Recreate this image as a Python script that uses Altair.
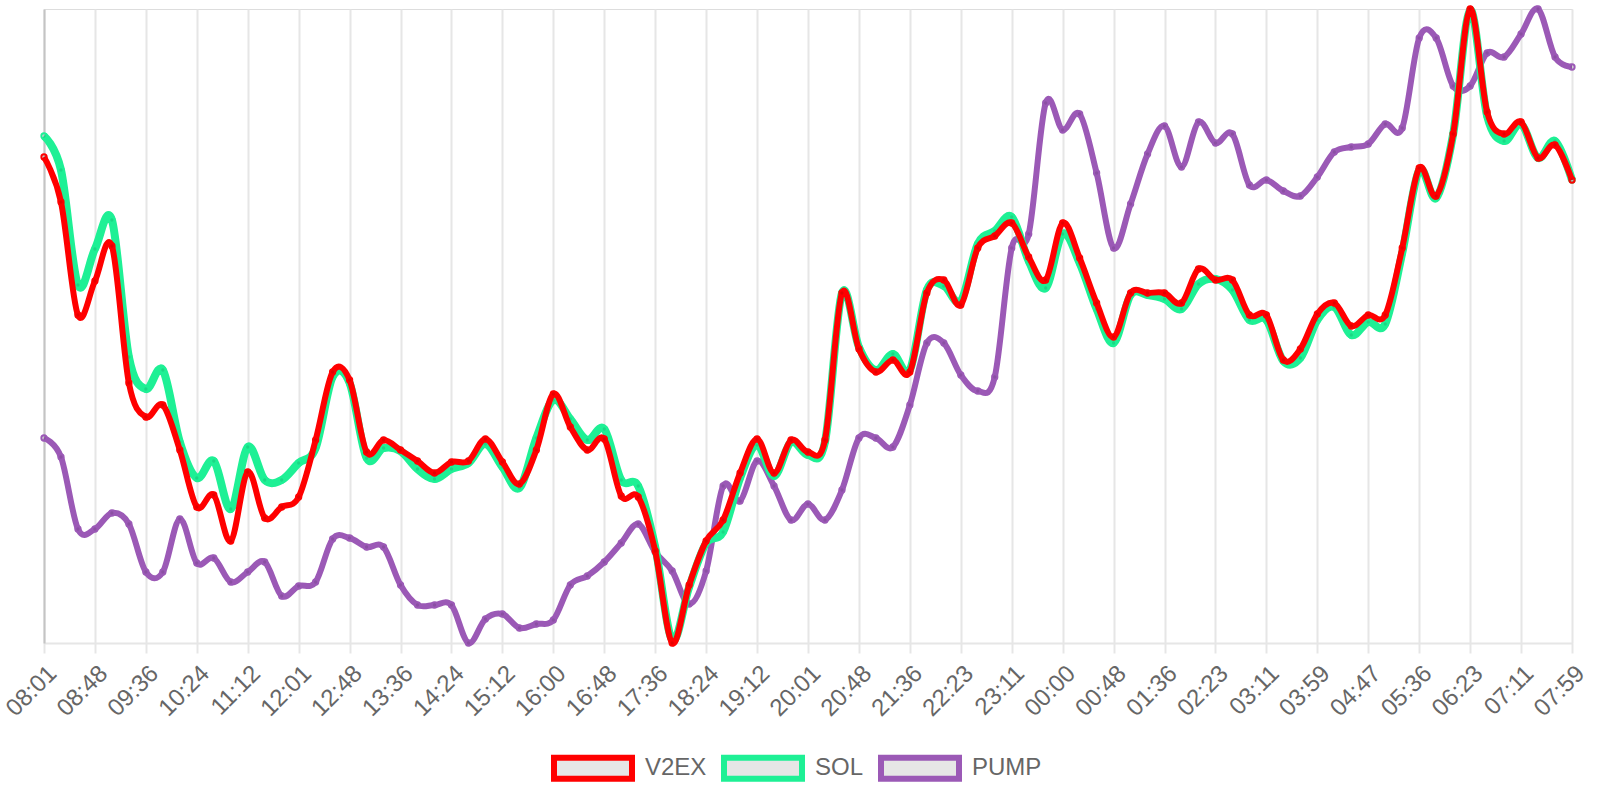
import altair as alt
import pandas as pd

TICK_LABELS = ["08:01", "08:48", "09:36", "10:24", "11:12", "12:01", "12:48", "13:36",
               "14:24", "15:12", "16:00", "16:48", "17:36", "18:24", "19:12", "20:01",
               "20:48", "21:36", "22:23", "23:11", "00:00", "00:48", "01:36", "02:23",
               "03:11", "03:59", "04:47", "05:36", "06:23", "07:11", "07:59"]

V2EX = [486, 441, 328, 362, 397, 260, 226, 238, 193, 136, 148, 102, 171, 125, 136, 146,
        203, 271, 263, 191, 203, 193, 182, 170, 181, 182, 204, 181, 159, 193, 249, 216,
        193, 204, 147, 146, 92, 0, 58, 102, 123, 170, 204, 170, 203, 191, 203, 350,
        294, 271, 283, 271, 350, 363, 338, 395, 407, 420, 386, 363, 420, 385, 340, 306,
        350, 350, 350, 340, 374, 363, 363, 328, 328, 283, 294, 329, 340, 317, 328, 328,
        395, 475, 447, 509, 634, 531, 509, 521, 485, 498, 463]

SOL = [507, 473, 358, 394, 423, 286, 254, 273, 201, 165, 182, 134, 196, 163, 163, 180,
       195, 266, 260, 185, 195, 192, 174, 164, 174, 180, 199, 176, 155, 205, 243, 224,
       203, 214, 163, 157, 96, 3, 56, 100, 111, 165, 198, 167, 201, 188, 201, 350,
       296, 273, 289, 273, 353, 357, 342, 399, 412, 426, 382, 355, 409, 380, 334, 300,
       348, 348, 344, 334, 359, 364, 353, 323, 323, 282, 285, 323, 336, 308, 321, 319,
       390, 473, 445, 509, 633, 527, 502, 519, 485, 502, 463]

PUMP = [205, 186, 114, 114, 130, 119, 71, 71, 124, 80, 85, 61, 71, 81, 47, 57,
        61, 104, 105, 96, 96, 58, 38, 38, 38, 0, 24, 29, 15, 19, 23, 58,
        67, 81, 100, 119, 91, 72, 39, 72, 157, 142, 182, 157, 123, 139, 123, 153,
        205, 205, 196, 238, 300, 300, 268, 252, 266, 395, 409, 540, 513, 529, 470, 395,
        439, 489, 517, 476, 521, 500, 509, 458, 463, 452, 447, 466, 491, 496, 499, 519,
        515, 605, 605, 557, 557, 590, 586, 609, 634, 586, 576]

SERIES = ["V2EX", "SOL", "PUMP"]
COLORS = ["#ff0000", "#1ef095", "#9b59b6"]
WIDTHS = {"V2EX": 6, "SOL": 8, "PUMP": 6}

rows = []
for name, vals in zip(SERIES, [V2EX, SOL, PUMP]):
    for i, v in enumerate(vals):
        rows.append({"i": i, "v": v, "series": name})
df = pd.DataFrame(rows)

n = len(V2EX)
all_vals = V2EX + SOL + PUMP
label_expr = "[" + ",".join(f"'{t}'" for t in TICK_LABELS) + "][round(datum.value / 3)]"

x_enc = alt.X(
    "i:Q",
    scale=alt.Scale(domain=[0, n - 1], nice=False, zero=False),
    axis=alt.Axis(
        values=list(range(0, n, 3)), labelExpr=label_expr, labelAngle=315,
        labelFontSize=24, labelColor="#666666", labelFont="Liberation Sans",
        labelPadding=8, labelOverlap=False, labelBound=False,
        grid=True, gridColor="#e6e6e6", gridWidth=2,
        tickColor="#e6e6e6", tickWidth=2, tickSize=10,
        domainColor="#e6e6e6", domainWidth=2, title=None,
    ),
)
y_enc = alt.Y(
    "v:Q",
    scale=alt.Scale(domain=[min(all_vals), max(all_vals)], nice=False, zero=False),
    axis=alt.Axis(labels=False, ticks=False, grid=False, domainColor="#c4c4c4",
                  domainWidth=2, title=None),
)
color_scale = alt.Scale(domain=SERIES, range=COLORS)
legend = alt.Legend(
    title=None, orient="none", direction="horizontal", legendX=507, legendY=717,
    symbolType="M-1,-0.27H1V0.27H-1Z", symbolSize=6084, symbolStrokeWidth=6,
    symbolFillColor="#e6e6e6", symbolOpacity=1, labelFontSize=24,
    labelColor="#666666", labelFont="Liberation Sans", labelOffset=10,
    columnPadding=5, padding=0,
)

layers = []
for name in ["PUMP", "SOL", "V2EX"]:
    sub = alt.Chart(df).transform_filter(alt.datum.series == name)
    line = sub.mark_line(interpolate="cardinal", tension=0, strokeWidth=WIDTHS[name]).encode(
        x=x_enc, y=y_enc,
        color=alt.Color("series:N", scale=color_scale, legend=legend),
    )
    pts = sub.mark_point(shape="circle", size=28, strokeWidth=2, filled=False,
                         fill="black", fillOpacity=0.1, opacity=1).encode(
        x="i:Q", y="v:Q",
        color=alt.Color("series:N", scale=color_scale, legend=None),
    )
    layers += [line, pts]

chart = alt.layer(*layers).properties(
    width=1528, height=634,
    padding={"left": 44, "top": 9, "right": 28, "bottom": 157},
    autosize=alt.AutoSizeParams(type="none"),
).configure_view(stroke=None).configure(background="white")

chart.save("out.html", embed_options={"renderer": "svg", "actions": False})
